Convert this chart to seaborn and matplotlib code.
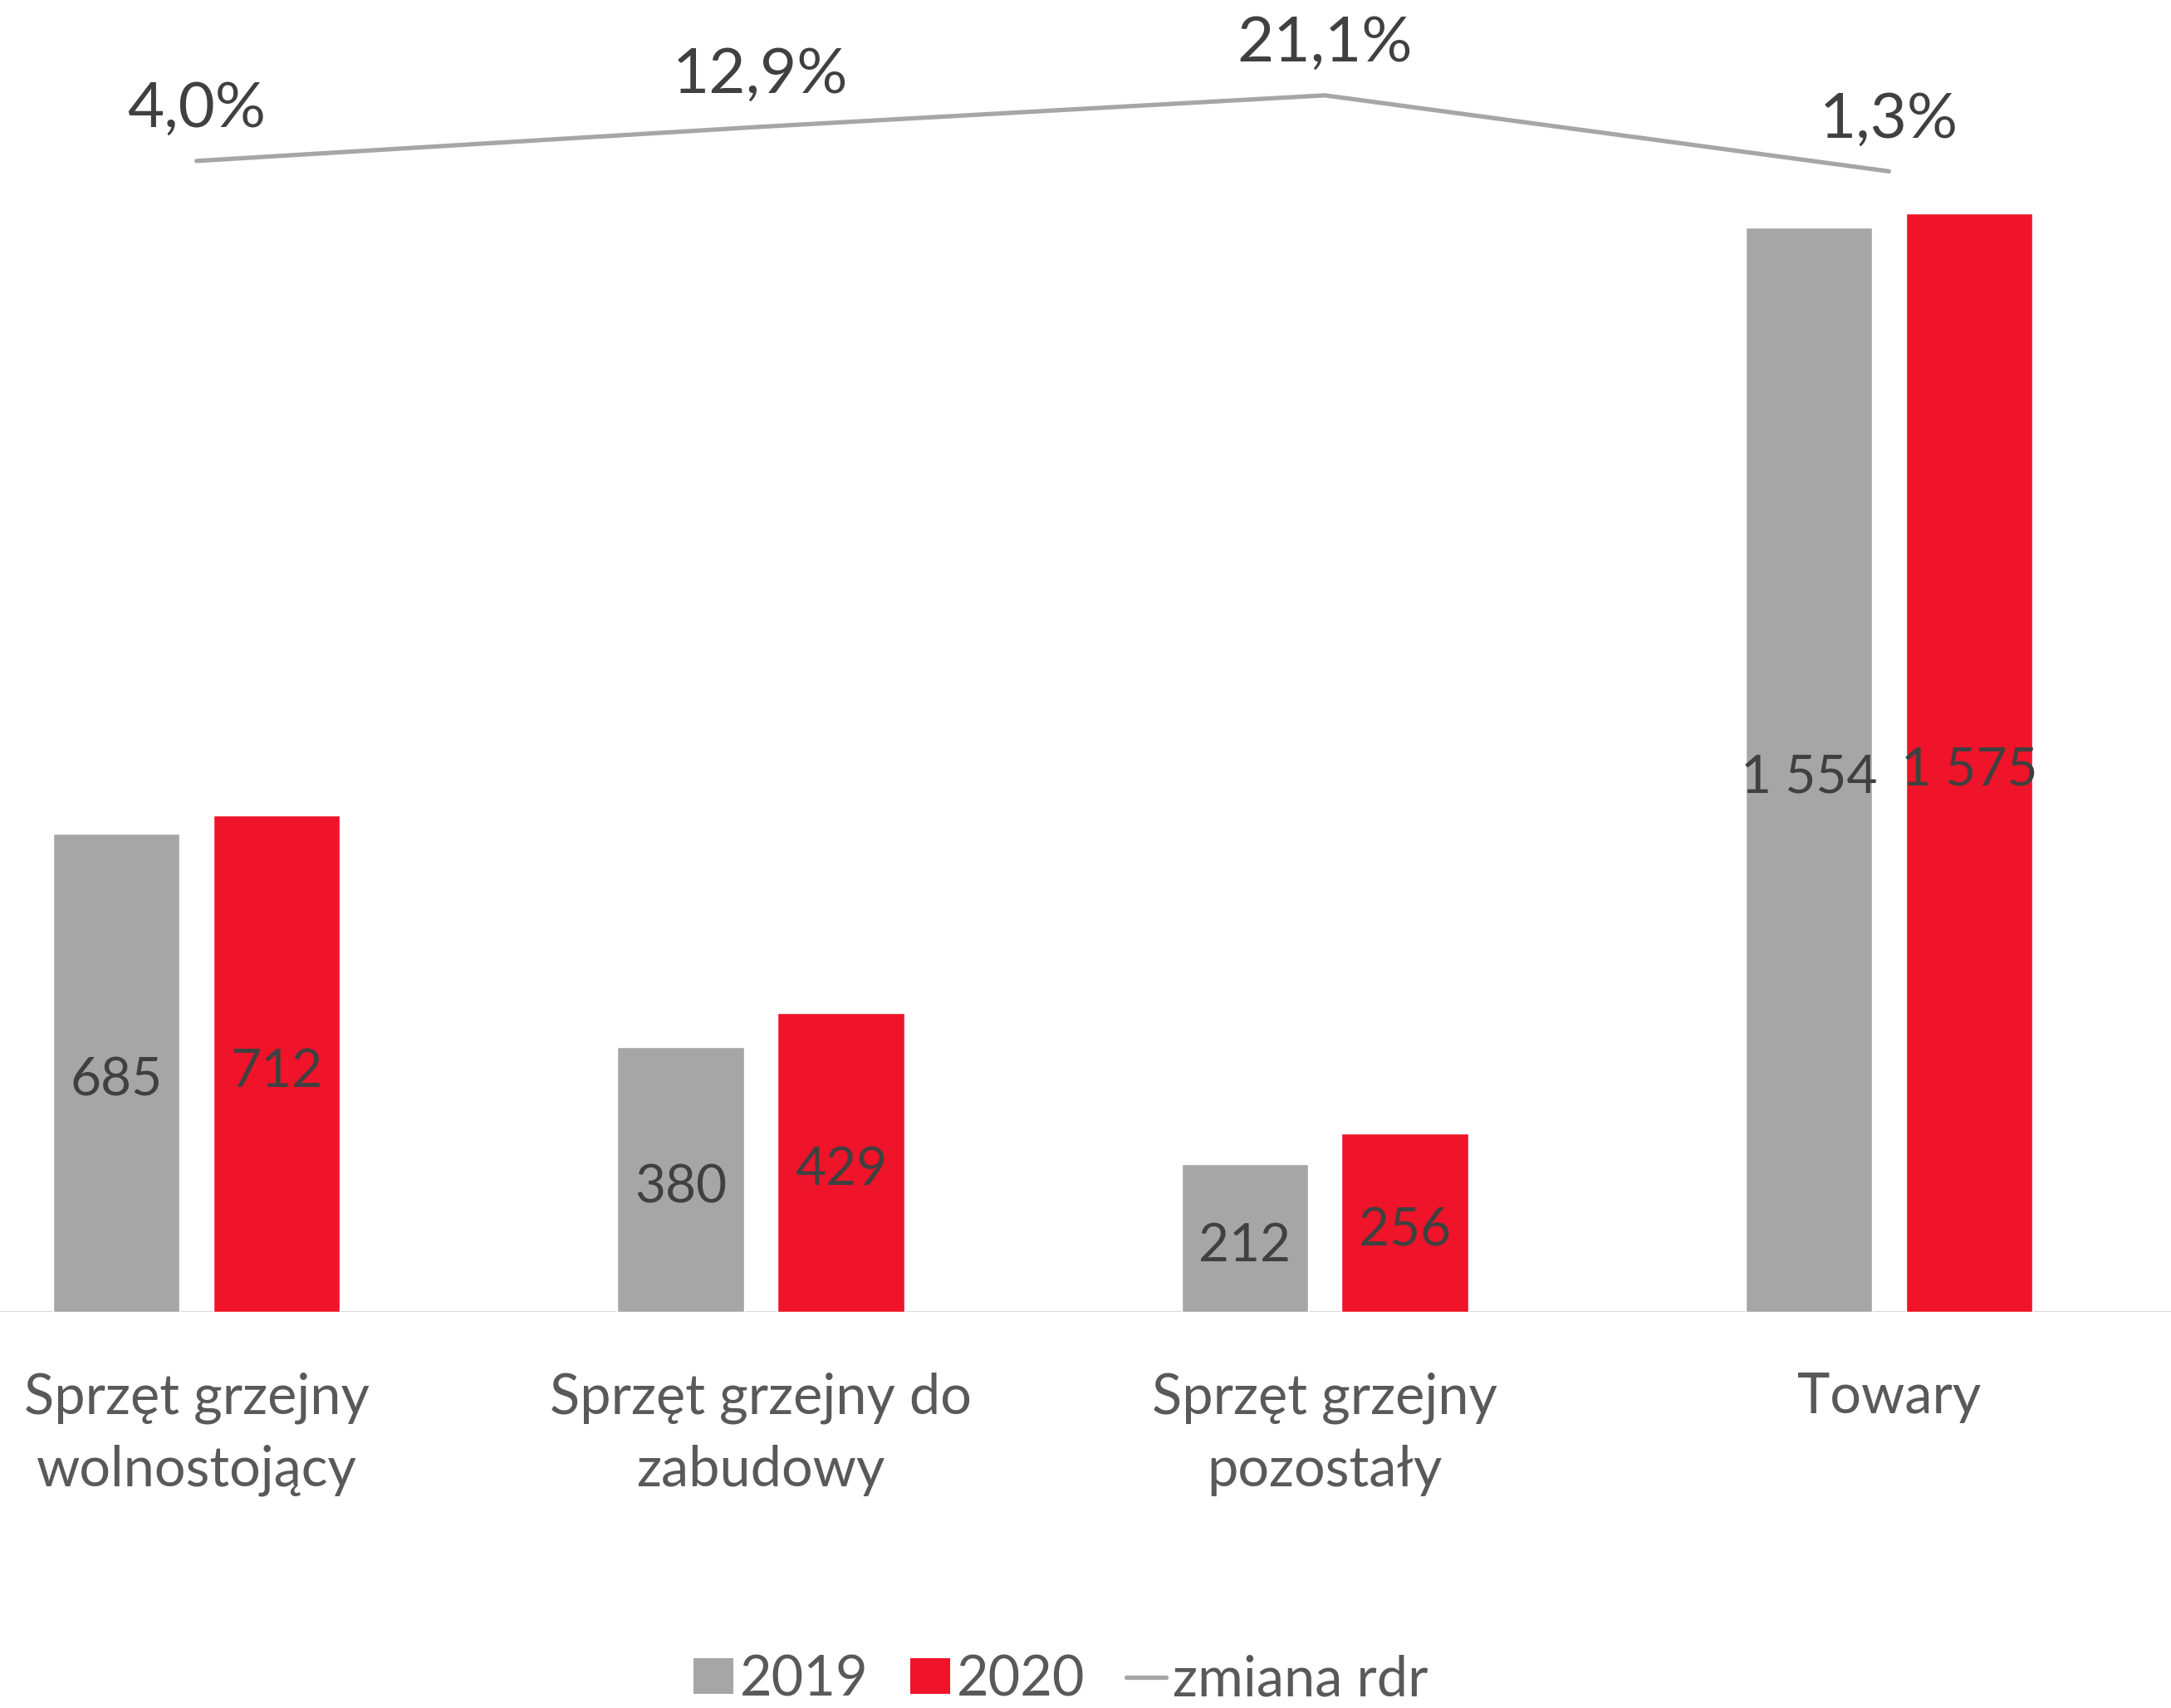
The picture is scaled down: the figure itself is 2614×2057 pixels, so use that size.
import numpy as np
import pandas as pd
import matplotlib
matplotlib.use("Agg")
import matplotlib.pyplot as plt
from matplotlib.patches import Patch
from matplotlib.lines import Line2D
import seaborn as sns

categories = ["Sprzęt grzejny\nwolnostojący", "Sprzęt grzejny do\nzabudowy",
              "Sprzęt grzejny\npozostały", "Towary"]
years = ["2019", "2020"]
values_2019 = [685, 380, 212, 1554]
values_2020 = [712, 429, 256, 1575]
change_pct = [4.0, 12.9, 21.1, 1.3]
line_label = "zmiana rdr"

GRAY = "#A6A6A6"
RED = "#EF1429"
TXT = "#404040"
TXT2 = "#595959"

sns.set_theme(style="white")
plt.rcParams["font.family"] = ["Lato", "DejaVu Sans"]

df = pd.DataFrame({
    "cat": categories * 2,
    "year": [years[0]] * 4 + [years[1]] * 4,
    "value": values_2019 + values_2020,
})

fig = plt.figure(figsize=(26.14, 20.57), dpi=100)
ax = fig.add_axes([0.0, 1 - 1580 / 2057, 1.0, (1580 - 70) / 2057])

sns.barplot(data=df, x="cat", y="value", hue="year", order=categories,
            hue_order=years, palette=[GRAY, RED], saturation=1,
            width=0.568, gap=0.21, ax=ax, legend=False)

ax.set_xlim(-0.3485, 3.5)
ax.set_ylim(0, 1797)
ax.axhline(0, color="#D9D9D9", lw=1.6, zorder=0.5)

def fmt(v):
    return f"{v:,}".replace(",", " ")

for cont, vals in zip(ax.containers, [values_2019, values_2020]):
    ax.bar_label(cont, labels=[fmt(v) for v in vals], label_type="center",
                 padding=-7, fontsize=46, color=TXT)

ax.set_xticks(range(len(categories)))
ax.set_xticklabels(categories, fontsize=48, color=TXT2, linespacing=1.5)
ax.tick_params(axis="x", length=0, pad=52)
ax.set_yticks([])
ax.set_xlabel("")
ax.set_ylabel("")
for s in ax.spines.values():
    s.set_visible(False)

ax2 = ax.twinx()
x_pos = np.arange(len(categories))
sns.lineplot(x=x_pos, y=change_pct, ax=ax2, color=GRAY, linewidth=3.8,
             legend=False, solid_capstyle="round")
ax2.set_ylim(-296, 30.8)
ax2.set_yticks([])
ax2.set_ylabel("")
for s in ax2.spines.values():
    s.set_visible(False)
for xi, p in zip(x_pos, change_pct):
    ax2.annotate(f"{p:.1f}%".replace(".", ","), (xi, p), xytext=(0, 29.5),
                 textcoords="offset points", ha="center", va="baseline",
                 fontsize=55, color=TXT)

handles = [Patch(facecolor=GRAY, edgecolor="none"),
           Patch(facecolor=RED, edgecolor="none"),
           Line2D([0], [0], color=GRAY, lw=3.8, solid_capstyle="round")]
leg = fig.legend(handles, years + [line_label], loc="center",
                 bbox_to_anchor=(0.4886, 0.0165), ncol=3, frameon=False,
                 fontsize=48, handlelength=0.72, handleheight=0.62,
                 handletextpad=0.12, columnspacing=0.75, borderpad=0)
for t in leg.get_texts():
    t.set_color(TXT2)

fig.savefig("out.png", dpi=100)
